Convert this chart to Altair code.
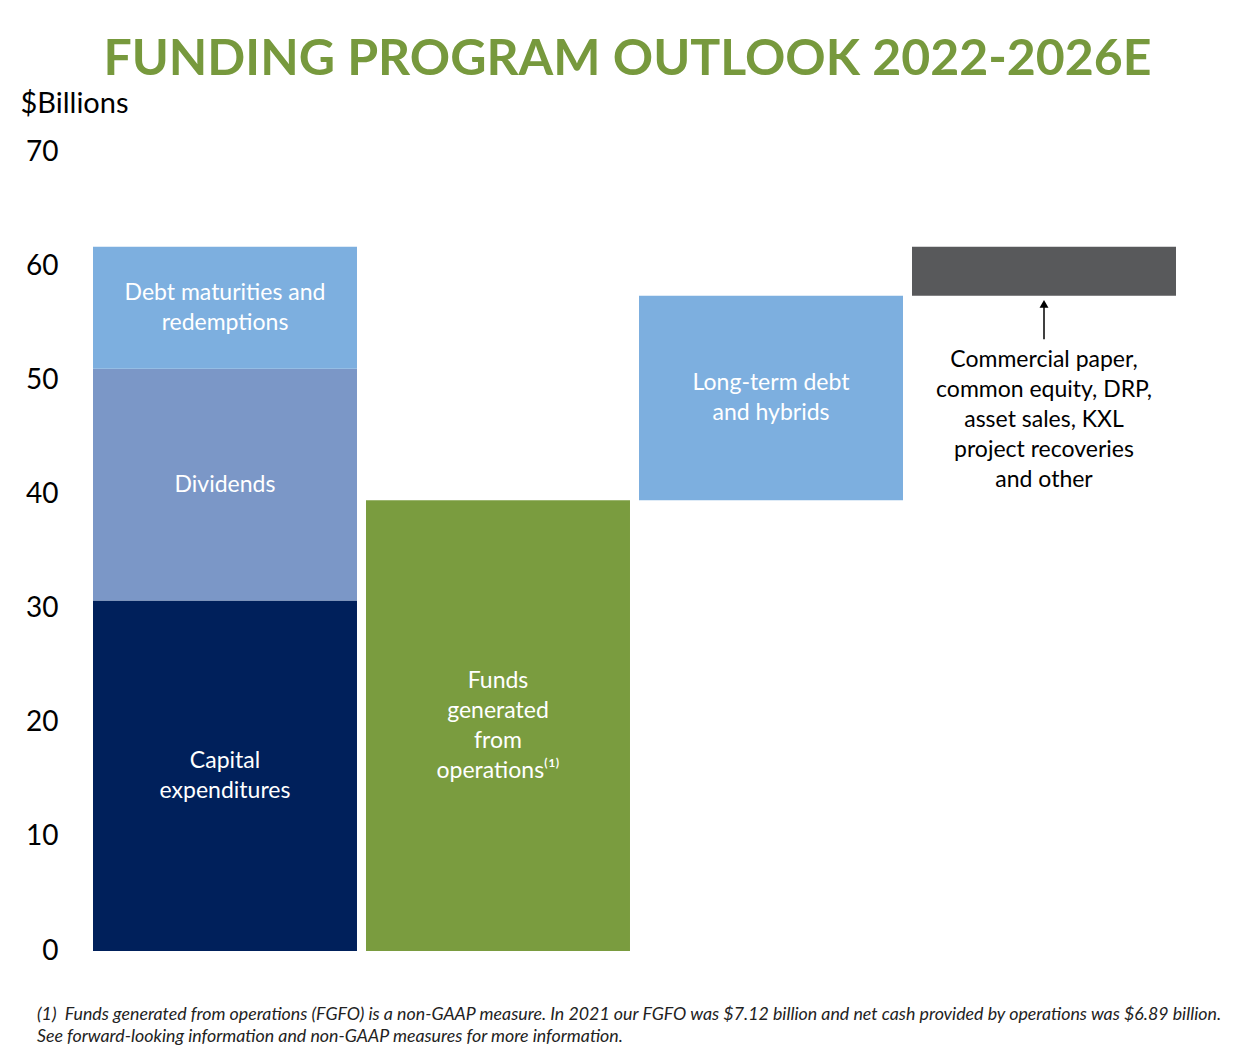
import altair as alt
import pandas as pd

# ---- data ----
bars = ["Uses", "FGFO", "LTD", "Other"]
seg_bar = ["Uses", "Uses", "Uses", "FGFO", "LTD", "Other"]
seg_name = ["Capital expenditures", "Dividends", "Debt maturities and redemptions",
            "Funds generated from operations", "Long-term debt and hybrids", "Other sources"]
seg_start = [0.0, 30.7, 51.0, 0.0, 39.5, 57.4]
seg_end = [30.7, 51.0, 61.7, 39.5, 57.4, 61.7]
seg_label = ["Capital\nexpenditures", "Dividends", "Debt maturities and\nredemptions",
             "Funds\ngenerated\nfrom\noperations\u207d\u00b9\u207e", "Long-term debt\nand hybrids", ""]
seg_colors = ["#00205B", "#7B97C7", "#7DAFDF", "#7A9C3F", "#7DAFDF", "#58595B"]
y_ticks = [0, 10, 20, 30, 40, 50, 60, 70]

note_text = ["Commercial paper,\ncommon equity, DRP,\nasset sales, KXL\nproject recoveries\nand other"]
note_y = [46.5]
arrow_from = [53.6]
arrow_to = [56.7]

footnote = ("(1)\u00a0 Funds generated from operations (FGFO) is a non-GAAP measure. In 2021 our FGFO was $7.12 billion "
            "and net cash provided by operations was $6.89 billion.\n"
            "See forward-looking information and non-GAAP measures for more information.")

FONT = "Lato"
W, H = 1083, 799
Y_MAX = 70
LINE_H = 30
PX_PER_UNIT = H / Y_MAX


def block_center(y, text):
    # shift so that a multi-line block (drawn downward from its first line) is centred on y
    n = text.count("\n") + 1
    return y + (n - 1) / 2 * LINE_H / PX_PER_UNIT


df = pd.DataFrame({"bar": seg_bar, "seg": seg_name, "start": seg_start, "end": seg_end, "label": seg_label})
df["mid"] = (df["start"] + df["end"]) / 2
df["ylab"] = [block_center(m, t) for m, t in zip(df["mid"], df["label"])]

xscale = alt.Scale(domain=bars, paddingInner=0.033, paddingOuter=0)
yscale = alt.Scale(domain=[0, Y_MAX])

base = alt.Chart(df)

bar_layer = base.mark_bar().encode(
    x=alt.X("bar:N", scale=xscale, axis=None),
    y=alt.Y("start:Q", scale=yscale,
            axis=alt.Axis(values=y_ticks, grid=False, domain=False, ticks=False,
                          labelFontSize=28, labelFont=FONT, labelColor="#000000", labelPadding=35,
                          title="$Billions", titleAngle=0, titleAlign="left", titleBaseline="alphabetic",
                          titleX=-73, titleY=-40, titleFontSize=29, titleFont=FONT,
                          titleFontWeight="normal", titleColor="#000000")),
    y2="end:Q",
    color=alt.Color("seg:N", scale=alt.Scale(domain=seg_name, range=seg_colors), legend=None),
)

label_layer = base.mark_text(color="white", fontSize=23, font=FONT, lineBreak="\n",
                             lineHeight=LINE_H, baseline="middle", align="center").encode(
    x=alt.X("bar:N", scale=xscale, bandPosition=0.5),
    y=alt.Y("ylab:Q", scale=yscale),
    text="label:N",
)

note_df = pd.DataFrame({"bar": ["Other"], "t": note_text, "y": note_y, "a0": arrow_from, "a1": arrow_to})
note_df["ylab"] = [block_center(y, t) for y, t in zip(note_df["y"], note_df["t"])]
note_base = alt.Chart(note_df)

note_layer = note_base.mark_text(color="black", fontSize=23, font=FONT, lineBreak="\n",
                                 lineHeight=LINE_H, baseline="middle", align="center").encode(
    x=alt.X("bar:N", scale=xscale, bandPosition=0.5),
    y=alt.Y("ylab:Q", scale=yscale),
    text="t:N",
)

arrow_rule = note_base.mark_rule(color="black", strokeWidth=1.5).encode(
    x=alt.X("bar:N", scale=xscale, bandPosition=0.5),
    y=alt.Y("a0:Q", scale=yscale),
    y2="a1:Q",
)

arrow_head = note_base.mark_point(shape="triangle-up", filled=True, color="black", size=80, opacity=1).encode(
    x=alt.X("bar:N", scale=xscale, bandPosition=0.5),
    y=alt.Y("a1:Q", scale=yscale),
)

foot_layer = alt.Chart(pd.DataFrame({"t": [footnote]})).mark_text(
    color="#222222", fontSize=17.8, font=FONT, fontStyle="italic", lineBreak="\n",
    lineHeight=22, baseline="middle", align="left").encode(
    x=alt.value(-56), y=alt.value(863), text="t:N")

chart = alt.layer(bar_layer, label_layer, note_layer, arrow_rule, arrow_head, foot_layer).properties(
    width=W, height=H,
    background="white",
    autosize=alt.AutoSizeParams(type="none"),
    padding={"left": 93, "top": 152, "right": 61, "bottom": 109},
    title=alt.TitleParams("FUNDING PROGRAM OUTLOOK 2022-2026E", fontSize=50, font=FONT,
                          fontWeight="bold", color="#77993D", anchor="middle", offset=4, dx=-7),
).configure_view(stroke=None)

chart.save("out.html", embed_options={"renderer": "svg", "actions": False})
